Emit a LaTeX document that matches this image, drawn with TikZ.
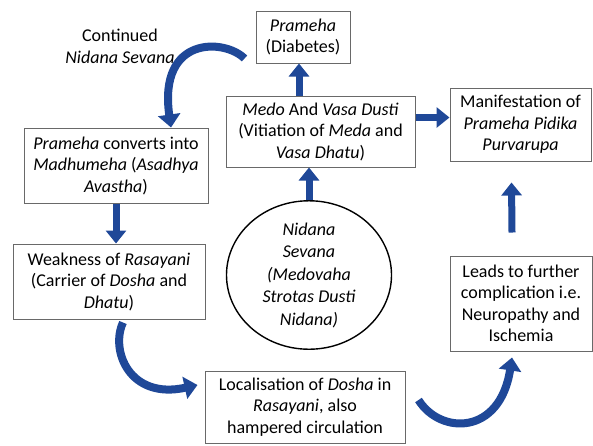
\documentclass[tikz,border=0pt]{standalone}
\usepackage{fontspec}
\setmainfont{Carlito}
\usetikzlibrary{arrows.meta,calc,shapes.geometric}
\definecolor{flowblue}{RGB}{31,72,152}
\definecolor{boxgray}{RGB}{105,105,105}
\tikzset{
  procbox/.style={draw=boxgray,line width=1pt,align=center,inner sep=0pt,font=\fontsize{18}{21.5}\selectfont},
  causeoval/.style={draw=black,line width=1.4pt,ellipse,align=center,inner sep=0pt,font=\fontsize{18}{22.5}\selectfont\itshape},
  fatarrow/.style={draw=flowblue,line width=7pt,-{Triangle[width=20pt,length=13pt]}},
  bentarrow/.style={draw=flowblue,line width=8pt,-{Triangle[width=22pt,length=13pt]}}
}
\begin{document}
\begin{tikzpicture}[x=1pt,y=-1pt]
\useasboundingbox (0,0) rectangle (593,445);
% boxes
\node[procbox,minimum width=94pt,minimum height=52pt] (diab) at (303,37) {\textit{Prameha}\\(Diabetes)};
\node[procbox,minimum width=189pt,minimum height=71pt] (medo) at (320.5,131.5) {\textit{Medo} And \textit{Vasa Dusti}\\(Vitiation of \textit{Meda} and\\\textit{Vasa Dhatu})};
\node[procbox,minimum width=141pt,minimum height=73pt] (manif) at (520.5,124.5) {Manifestation of\\\textit{Prameha Pidika}\\\textit{Purvarupa}};
\node[procbox,minimum width=184pt,minimum height=75pt] (conv) at (116,165.5) {\textit{Prameha} converts into\\\textit{Madhumeha} (\textit{Asadhya}\\\textit{Avastha})};
\node[procbox,minimum width=192pt,minimum height=75pt] (weak) at (109,281.5) {Weakness of \textit{Rasayani}\\(Carrier of \textit{Dosha} and\\\textit{Dhatu})};
\node[causeoval,minimum width=165pt,minimum height=144pt] (cause) at (309,275) {Nidana\\Sevana\\(Medovaha\\Strotas Dusti\\Nidana)};
\node[procbox,minimum width=200pt,minimum height=72pt] (local) at (305,407) {Localisation of \textit{Dosha} in\\\textit{Rasayani}, also\\hampered circulation};
\node[procbox,minimum width=142pt,minimum height=95pt] (leads) at (521,303.5) {Leads to further\\complication i.e.\\Neuropathy and\\Ischemia};
\node[align=center,font=\fontsize{18}{22}\selectfont] (cont) at (120,46) {Continued\\\textit{Nidana Sevana}};
% straight arrows
\draw[fatarrow] (cause.north) -- (cause.north |- medo.south);
\draw[fatarrow] ($(diab.south |- medo.north)+(-4,0)$) -- ($(diab.south)+(-4,0)$);
\draw[fatarrow] ($(medo.east |- manif.west)+(0,-7)$) -- ($(manif.west)+(0,-7)$);
\draw[fatarrow] (conv.south) -- (conv.south |- weak.north);
\draw[fatarrow] ($(leads.north)+(-9,-23)$) -- ($(manif.south)+(-9,21)$);
% curved arrows
\draw[bentarrow] ($(diab.south west)+(-11,-5)$) .. controls +(-20,-20) and +(-13,-92) .. ($(conv.north)+(55,0)$);
\draw[bentarrow] ($(weak.south)+(14,3)$) .. controls +(-13,28) and +(-68,15) .. ($(local.west)+(-7,-22)$);
\draw[bentarrow] ($(local.east)+(13,-7)$) .. controls +(22,35) and +(-12,78) .. ($(leads.south)+(-9,6)$);
\end{tikzpicture}
\end{document}
